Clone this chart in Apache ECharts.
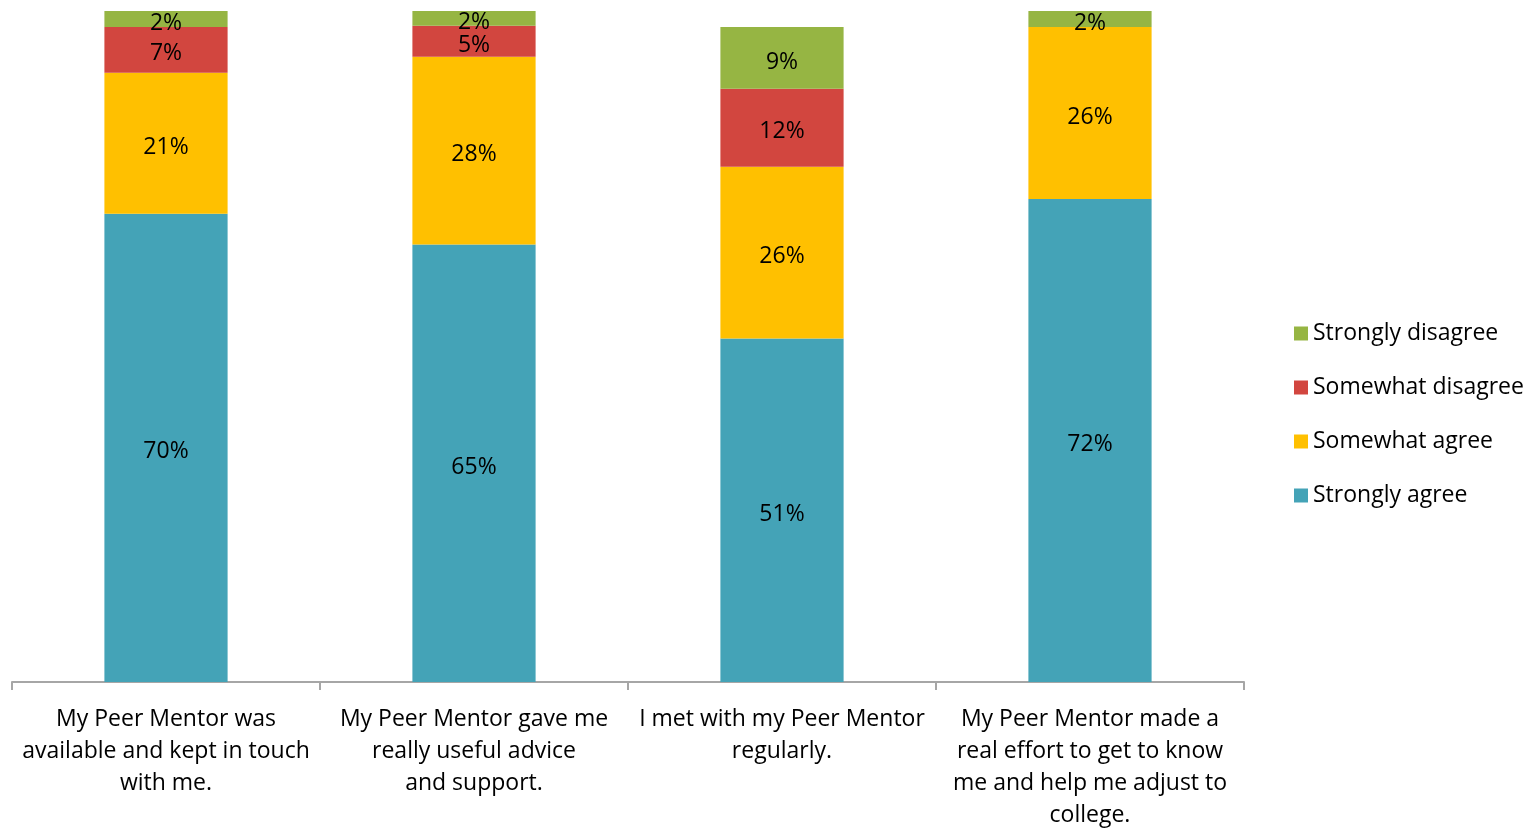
<!DOCTYPE html>
<html><head><meta charset="utf-8">
<script src="https://cdn.jsdelivr.net/npm/echarts@6/dist/echarts.min.js"></script>
<style>html,body{margin:0;padding:0;background:#fff}#c{width:1534px;height:828px}</style>
</head><body><div id="c"></div>
<script>
const categories = [
  "My Peer Mentor was\navailable and kept in touch\nwith me.",
  "My Peer Mentor gave me\nreally useful advice\nand support.",
  "I met with my Peer Mentor\nregularly.",
  "My Peer Mentor made a\nreal effort to get to know\nme and help me adjust to\ncollege."
];
const seriesNames = ["Strongly agree", "Somewhat agree", "Somewhat disagree", "Strongly disagree"];
const stronglyAgree = [69.8, 65.2, 51.2, 72.0];
const somewhatAgree = [21.0, 28.0, 25.6, 25.6];
const somewhatDisagree = [6.8, 4.6, 11.6, null];
const stronglyDisagree = [2.4, 2.2, 9.2, 2.4];
const colors = ["#44A3B7", "#FFC000", "#D2463F", "#96B543"];
const legendOrder = ["Strongly disagree", "Somewhat disagree", "Somewhat agree", "Strongly agree"];

const FONT = "'Open Sans', sans-serif";
const dataSets = [stronglyAgree, somewhatAgree, somewhatDisagree, stronglyDisagree];
const chart = echarts.init(document.getElementById('c'), null, {renderer: 'canvas'});
chart.setOption({
  animation: false,
  grid: {left: 12, right: 290, top: 11, bottom: 146, containLabel: false, outerBoundsMode: 'none'},
  legend: {
    orient: 'vertical', left: 1294, top: 322, padding: 0, itemWidth: 14, itemHeight: 14, itemGap: 31,
    icon: 'rect', data: legendOrder,
    textStyle: {fontFamily: FONT, fontSize: 23, lineHeight: 22, color: '#000'}
  },
  xAxis: {
    type: 'category', data: categories,
    axisLine: {lineStyle: {color: '#A6A6A6', width: 2}},
    axisTick: {show: true, alignWithLabel: false, length: 8, lineStyle: {color: '#A6A6A6', width: 2}},
    axisLabel: {interval: 0, fontFamily: FONT, fontSize: 23, color: '#000', lineHeight: 32, margin: 21,
      align: 'center'}
  },
  yAxis: {type: 'value', min: 0, max: 100, show: false, splitLine: {show: false}},
  series: seriesNames.map((n, i) => ({
    name: n, type: 'bar', stack: 'total', barWidth: '40%', data: dataSets[i],
    itemStyle: {color: colors[i]},
    label: {show: true, position: 'inside', offset: [0, 4], fontFamily: FONT, fontSize: 23, color: '#000',
      formatter: p => p.value == null ? '' : Math.round(p.value) + '%'}
  }))
});
</script></body></html>
